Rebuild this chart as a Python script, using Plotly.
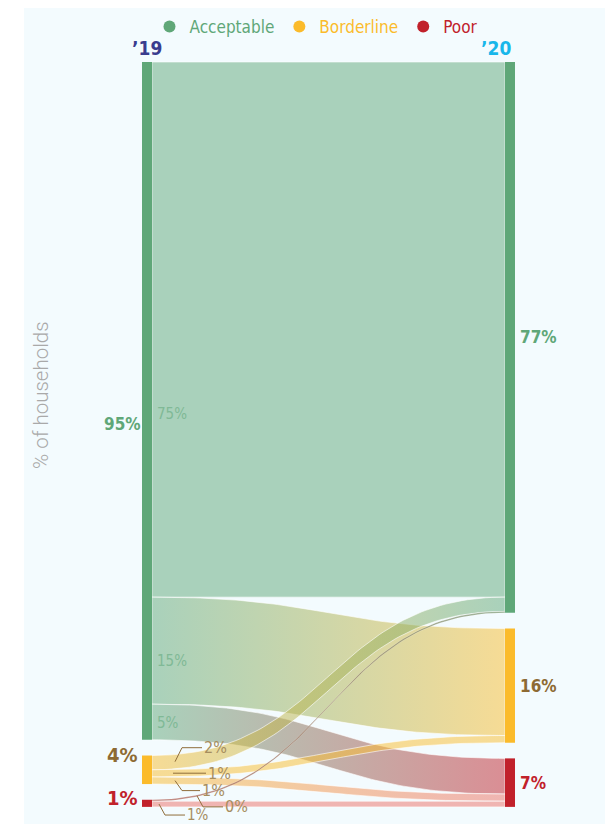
import numpy as np
import plotly.graph_objects as go

# ---------------- data ----------------
categories = ["Acceptable", "Borderline", "Poor"]
years = ["\u201919", "\u201920"]
share_2019 = [95, 4, 1]
# flows[i][j]: share of households moving from category i (2019) to category j (2020)
flow_from_acceptable = [75, 15, 5]
flow_from_borderline = [2, 1, 1]
flow_from_poor = [0.2, 0, 0.8]
flows = [flow_from_acceptable, flow_from_borderline, flow_from_poor]

# ---------------- style ----------------
NODE_COL = ["#5fa778", "#fbbb2b", "#c1212b"]
LINK_COL = ["rgba(95,167,120,0.5)", "rgba(249,190,52,0.52)", "rgba(193,33,43,0.5)"]
THIN_COL = ["rgba(120,150,110,0.8)", "rgba(200,160,80,0.8)", "rgba(175,90,80,0.8)"]
POORPOOR_COL = "rgba(235,95,85,0.45)"
LABEL_COL = ["#5fa778", "#8d6a33", "#c1212b"]
FLOW_LABEL_COL = "#80b996"
LEADER_TEXT_COL = "#a68d5e"
LEADER_LINE_COL = "#8f6d3a"
BG = "#f3fbfe"
FONT = "Liberation Sans Narrow, DejaVu Sans Condensed, Roboto Condensed, Roboto, sans-serif"

W, H = 613, 824          # browser window
OFF = 8                  # page offset of the figure (body margin)
PLOT_L, PLOT_R, PLOT_T, PLOT_B = 24, 609, 8, 824   # page px
LINK_X0_PX, LINK_X1_PX, NODE_W_PX = 152, 505, 10
STACK_TOP_PX = 62
PX_PER_PCT = 7.135
GAP = 2.2  # gap between nodes, in % units

PX_X = LINK_X1_PX - LINK_X0_PX  # px per x unit
NODE_W = NODE_W_PX / PX_X


def px2x(px):
    return (px - LINK_X0_PX) / PX_X


def px2y(py):
    return (py - STACK_TOP_PX) / PX_PER_PCT


# ---------------- geometry from data ----------------
n = len(categories)
flows_arr = np.array(flows, dtype=float)
left_tot = flows_arr.sum(axis=1)
right_tot = flows_arr.sum(axis=0)


def stack(tots):
    tops, y = [], 0.0
    for tt in tots:
        tops.append(y)
        y += tt + GAP
    return tops


left_top = stack(left_tot)
right_top = stack(right_tot)

left_off = list(left_top)
links = []
for i in range(n):
    for j in range(n):
        v = flows_arr[i, j]
        if v <= 0:
            continue
        links.append(dict(i=i, j=j, v=v, y0=left_off[i], y1=0.0))
        left_off[i] += v
right_off = list(right_top)
for j in range(n):
    for i in range(n):
        for lk in links:
            if lk["i"] == i and lk["j"] == j:
                lk["y1"] = right_off[j]
                right_off[j] += lk["v"]

t = np.linspace(0, 1, 80)
bx = 3 * (1 - t) ** 2 * t * 0.5 + 3 * (1 - t) * t ** 2 * 0.5 + t ** 3
w0 = (1 - t) ** 3 + 3 * (1 - t) ** 2 * t


def curve(ya, yb):
    return w0 * ya + (1 - w0) * yb


fig = go.Figure()

# links
for lk in links:
    top = curve(lk["y0"], lk["y1"])
    bot = curve(lk["y0"] + lk["v"], lk["y1"] + lk["v"])
    xs = np.concatenate([bx, bx[::-1], bx[:1]])
    ys = np.concatenate([top, bot[::-1], top[:1]])
    thin = lk["v"] < 0.5
    if thin:
        c0, c1 = THIN_COL[lk["i"]], THIN_COL[lk["j"]]
    else:
        c0, c1 = LINK_COL[lk["i"]], LINK_COL[lk["j"]]
        if lk["i"] == 2 and lk["j"] == 2:
            c0 = c1 = POORPOOR_COL
        if lk["j"] == 2 and lk["i"] == 1:
            c1 = POORPOOR_COL
    fig.add_trace(go.Scatter(
        x=xs, y=ys, mode="lines", fill="toself",
        fillcolor=c0,
        fillgradient=dict(type="horizontal", colorscale=[[0, c0], [1, c1]]),
        line=dict(color="rgba(255,255,255,0.55)" if thin else "rgba(255,255,255,0.75)",
                  width=0.4 if thin else 0.8),
        hoverinfo="skip", showlegend=False))

# nodes
for k in range(n):
    for side, tops, tots in ((0, left_top, left_tot), (1, right_top, right_tot)):
        xa = -NODE_W if side == 0 else 1.0
        xb = xa + NODE_W
        ya, yb = tops[k], tops[k] + tots[k]
        fig.add_trace(go.Scatter(
            x=[xa, xb, xb, xa, xa], y=[ya, ya, yb, yb, ya], mode="lines",
            fill="toself", fillcolor=NODE_COL[k], line=dict(width=0),
            hoverinfo="skip", showlegend=False))

# legend entries
for k in range(n):
    fig.add_trace(go.Scatter(
        x=[None], y=[None], mode="markers",
        marker=dict(color=NODE_COL[k], size=10),
        name=f"<span style='color:{NODE_COL[k]}'>{categories[k]}</span>"))

ann = []
# year labels
ann.append(dict(x=-NODE_W / 2, y=px2y(48), text=f"<b>{years[0]}</b>", showarrow=False,
                xanchor="center", yanchor="middle",
                font=dict(size=19, color="#393c8e", family=FONT)))
ann.append(dict(x=1 + NODE_W, y=px2y(48), text=f"<b>{years[1]}</b>", showarrow=False,
                xanchor="right", yanchor="middle", xshift=-2,
                font=dict(size=19, color="#18b7ea", family=FONT)))

# left node labels
left_shift = [-23, 15, 5]
left_size = [17, 20, 20]
for k in range(n):
    c = left_top[k] + left_tot[k] / 2
    ann.append(dict(x=px2x(122), y=c, text=f"<b>{left_tot[k]:.0f}%</b>", showarrow=False,
                    xanchor="center", yanchor="middle", yshift=left_shift[k],
                    font=dict(size=left_size[k], color=LABEL_COL[k], family=FONT)))
# right node labels
for k in range(n):
    c = right_top[k] + right_tot[k] / 2
    ann.append(dict(x=1 + NODE_W, y=c, text=f"<b>{right_tot[k]:.0f}%</b>", showarrow=False,
                    xanchor="left", yanchor="middle", xshift=3,
                    font=dict(size=17, color=LABEL_COL[k], family=FONT)))

# flow labels for acceptable (inside ribbons)
acc_shift = [-84, -10, -1]
for lk in links:
    if lk["i"] == 0:
        c = lk["y0"] + lk["v"] / 2
        ann.append(dict(x=0, y=c, text=f"{lk['v']:.0f}%", showarrow=False,
                        xanchor="left", yanchor="middle", xshift=3,
                        yshift=acc_shift[lk["j"]],
                        font=dict(size=15, color=FLOW_LABEL_COL, family=FONT)))

# leader-labelled flows: (start dx px, elbow dx px, elbow dy px, horizontal length px)
LEADER = {(1, 0): (23, 7, -14, 20), (1, 1): (21, 0, 0, 33), (1, 2): (23, 7, 10, 18),
          (2, 0): (45, 6, 11, 20), (2, 2): (7, 6, 11, 20)}
for lk in links:
    key = (lk["i"], lk["j"])
    if key not in LEADER:
        continue
    sdx, edx, edy, hl = LEADER[key]
    xs0 = sdx / PX_X
    cen = curve(lk["y0"] + lk["v"] / 2, lk["y1"] + lk["v"] / 2)
    ys0 = float(np.interp(xs0, bx, cen))
    xe = xs0 + edx / PX_X
    ye = ys0 + edy / PX_PER_PCT
    xend = xe + hl / PX_X
    fig.add_trace(go.Scatter(
        x=[xs0, xe, xend], y=[ys0, ye, ye], mode="lines",
        line=dict(color=LEADER_LINE_COL, width=1), hoverinfo="skip", showlegend=False))
    ann.append(dict(x=xend, y=ye, text=f"{lk['v']:.0f}%", showarrow=False,
                    xanchor="left", yanchor="middle", xshift=0,
                    font=dict(size=16 if key != (2, 2) else 15, color=LEADER_TEXT_COL,
                              family=FONT)))

# axis title
ann.append(dict(x=(41 - PLOT_L) / (PLOT_R - PLOT_L), y=1 - (395 - PLOT_T) / (PLOT_B - PLOT_T),
                xref="paper", yref="paper", text="% of households", textangle=-90,
                showarrow=False, xanchor="center", yanchor="middle",
                font=dict(size=20.5, color="#a9a9a9", family="Roboto", weight=300)))

FW, FH = W - OFF, H - OFF
fig.update_layout(
    width=FW, height=FH,
    margin=dict(l=PLOT_L - OFF, r=W - PLOT_R, t=PLOT_T - OFF, b=H - PLOT_B, pad=0),
    paper_bgcolor="white", plot_bgcolor=BG,
    xaxis=dict(range=[px2x(PLOT_L), px2x(PLOT_R)], visible=False, fixedrange=True),
    yaxis=dict(range=[px2y(PLOT_B), px2y(PLOT_T)], visible=False, fixedrange=True),
    legend=dict(orientation="h", x=0.5, xanchor="center",
                y=1 - (27 - PLOT_T) / (PLOT_B - PLOT_T), yanchor="middle",
                font=dict(size=17, family=FONT), bgcolor="rgba(0,0,0,0)",
                itemsizing="constant"),
    annotations=ann,
    showlegend=True,
)

fig.write_html("out.html")
